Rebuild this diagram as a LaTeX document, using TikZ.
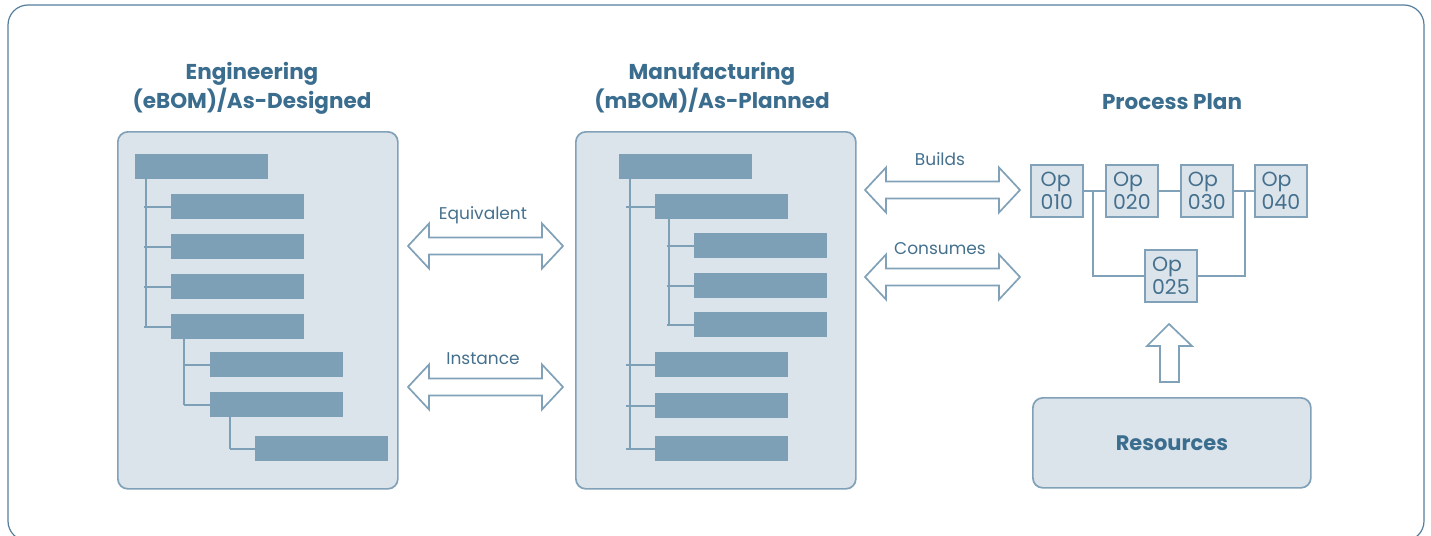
\documentclass[tikz,border=0pt]{standalone}
\usepackage{fontspec}
\setmainfont{Poppins}
\definecolor{titleblue}{HTML}{3B6D8E}
\definecolor{panelfill}{HTML}{DCE4EB}
\definecolor{panelline}{HTML}{80A1B8}
\definecolor{barfill}{HTML}{7DA0B7}
\definecolor{framecol}{HTML}{557E9C}
\definecolor{labelcol}{HTML}{44708E}
\newcommand\hdarrow[3]{%
  \draw[arrowline] (#1,#3) -- (#1+21,#3-22.5) -- (#1+21,#3-8.5) -- (#2-21,#3-8.5) -- (#2-21,#3-22.5) -- (#2,#3)
   -- (#2-21,#3+22.5) -- (#2-21,#3+8.5) -- (#1+21,#3+8.5) -- (#1+21,#3+22.5) -- cycle;}
\begin{document}
\begin{tikzpicture}[x=1pt,y=-1pt,
  panel/.style={draw=panelline, fill=panelfill, line width=1.7pt, rounded corners=10pt, anchor=north west, inner sep=0pt},
  bar/.style={fill=barfill, draw=none, minimum width=133pt, minimum height=25pt, inner sep=0pt, anchor=north west},
  treeline/.style={draw=barfill, line width=2pt},
  oplink/.style={draw=panelline, line width=2pt},
  opbox/.style={draw=panelline, fill=panelfill, line width=1.7pt, minimum width=52pt, minimum height=52pt, inner sep=0pt, anchor=north west, align=left, text=labelcol, font=\fontsize{20.5}{23}\selectfont},
  arrowline/.style={draw=panelline, fill=white, line width=1.7pt, line join=miter},
  title/.style={text=titleblue, font=\fontsize{21.5}{29}\selectfont\bfseries, align=center},
  lbl/.style={text=labelcol, font=\fontsize{17}{20}\selectfont}
]
\useasboundingbox (0,0) rectangle (1431,535);
\draw[framecol, line width=1.2pt, rounded corners=20pt] (8,5) rectangle (1424,541);

% titles
\node[title] (t1) at (252,88) {Engineering\\(eBOM)/As-Designed};
\node[title] (t2) at (712,88) {Manufacturing\\(mBOM)/As-Planned};
\node[title] (t3) at (1172,102) {Process Plan};

% panels
\node[panel, minimum width=280pt, minimum height=357pt] (eng) at (117,131) {};
\node[panel, minimum width=280pt, minimum height=357pt] (mfg) at (575,131) {};

% engineering tree
\node[bar] (e0) at (135,154) {};
\node[bar] (e1) at (171,194) {};
\node[bar] (e2) at (171,234) {};
\node[bar] (e3) at (171,274) {};
\node[bar] (e4) at (171,314) {};
\node[bar] (e5) at (210,352) {};
\node[bar] (e6) at (210,392) {};
\node[bar] (e7) at (255,436) {};
\draw[treeline] (146,179) -- (146,326.5);
\foreach \n in {e1,e2,e3,e4} \draw[treeline] (144,0 |- \n.west) -- (\n.west);
\draw[treeline] (184,339) -- (184,404.5);
\foreach \n in {e5,e6} \draw[treeline] (184,0 |- \n.west) -- (\n.west);
\draw[treeline] (230,417) -- (230,448.5);
\draw[treeline] (230,0 |- e7.west) -- (e7.west);

% manufacturing tree
\node[bar] (m0) at (619,154) {};
\node[bar] (m1) at (655,194) {};
\node[bar] (m2) at (694,233) {};
\node[bar] (m3) at (694,273) {};
\node[bar] (m4) at (694,312) {};
\node[bar] (m5) at (655,352) {};
\node[bar] (m6) at (655,393) {};
\node[bar] (m7) at (655,436) {};
\draw[treeline] (630,179) -- (630,448.5);
\foreach \n in {m1,m5,m6,m7} \draw[treeline] (626,0 |- \n.west) -- (\n.west);
\draw[treeline] (669,219) -- (669,324.5);
\foreach \n in {m2,m3,m4} \draw[treeline] (667,0 |- \n.west) -- (\n.west);

% double arrows
\hdarrow{408}{563}{246}
\hdarrow{408}{563}{387}
\hdarrow{865}{1020}{190}
\hdarrow{865}{1020}{277}
\node[lbl] (l1) at (483,215) {Equivalent};
\node[lbl] (l2) at (483,359) {Instance};
\node[lbl] (l3) at (940,159) {Builds};
\node[lbl] (l4) at (940,249) {Consumes};

% process plan
\node[opbox] (o10) at (1030,164) {Op\\010};
\node[opbox] (o20) at (1105,164) {Op\\020};
\node[opbox] (o30) at (1180,164) {Op\\030};
\node[opbox] (o40) at (1254,164) {Op\\040};
\node[opbox] (o25) at (1144,249) {Op\\025};
\draw[oplink] (o10.east) -- (o20.west);
\draw[oplink] (o20.east) -- (o30.west);
\draw[oplink] (o30.east) -- (o40.west);
\draw[oplink] (1093,0 |- o10.east) -- (1093,0 |- o25.west) -- (o25.west);
\draw[oplink] (o25.east) -- (1245,0 |- o25.east) -- (1245,0 |- o30.east);

% resources
\node[panel, minimum width=278pt, minimum height=90pt] (res) at (1032,397) {};
\node[text=titleblue, font=\fontsize{21}{25}\selectfont\bfseries] (restxt) at (res.center) {Resources};
\draw[arrowline] (1169,324) -- (1192,346) -- (1179,346) -- (1179,382) -- (1160,382) -- (1160,346) -- (1147,346) -- cycle;
\end{tikzpicture}
\end{document}
